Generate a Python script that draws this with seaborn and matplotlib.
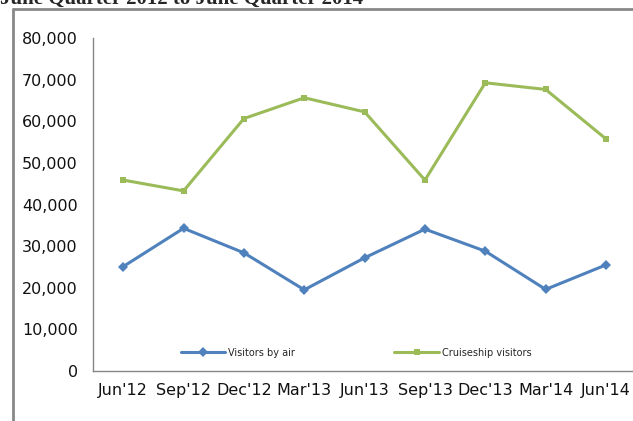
import pandas as pd
import matplotlib.pyplot as plt
import matplotlib.ticker as mticker
import seaborn as sns

quarters = ["Jun'12", "Sep'12", "Dec'12", "Mar'13", "Jun'13",
            "Sep'13", "Dec'13", "Mar'14", "Jun'14"]
visitors_by_air = [25100, 34300, 28400, 19500, 27200, 34100, 28800, 19600, 25500]
cruiseship_visitors = [45900, 43300, 60700, 65700, 62300, 45900, 69300, 67700, 55800]

df = pd.DataFrame({
    "quarter": quarters * 2,
    "visitors": visitors_by_air + cruiseship_visitors,
    "series": ["Visitors by air"] * len(quarters) + ["Cruiseship visitors"] * len(quarters),
})

sns.set_style("white")
plt.rcParams["font.family"] = ["DejaVu Sans"]

fig = plt.figure(figsize=(6.33, 4.21), dpi=100)
ax = fig.add_axes([0.147, 0.119, 0.858, 0.790])

palette = {"Visitors by air": "#4F81BD", "Cruiseship visitors": "#9BBB59"}
markers = {"Visitors by air": "D", "Cruiseship visitors": "s"}
sns.lineplot(data=df, x="quarter", y="visitors", hue="series", style="series",
             palette=palette, markers=markers, dashes=False, linewidth=2.2,
             markersize=5, markeredgewidth=0, sort=False, ax=ax)

ax.set_xlim(-0.5, len(quarters) - 0.5)
ax.set_ylim(0, 80000)
ax.yaxis.set_major_locator(mticker.MultipleLocator(10000))
ax.yaxis.set_major_formatter(mticker.StrMethodFormatter("{x:,.0f}"))
ax.set_xticks(range(len(quarters)))
ax.set_xticklabels(quarters)
ax.set_xticks([i - 0.5 for i in range(len(quarters) + 1)], minor=True)
ax.tick_params(axis="x", which="major", length=0, pad=9, labelsize=11.5, colors="#111111")
ax.tick_params(axis="x", which="minor", length=5, width=1, color="#868686", direction="out")
ax.tick_params(axis="y", length=5, width=1, color="#868686", direction="out",
               labelsize=11.5, labelcolor="#111111", pad=6)
ax.set_xlabel("")
ax.set_ylabel("")
for side in ["top", "right"]:
    ax.spines[side].set_visible(False)
for side in ["left", "bottom"]:
    ax.spines[side].set_color("#868686")
    ax.spines[side].set_linewidth(1)

leg = ax.legend(loc="lower left", bbox_to_anchor=(0.145, 0.013), ncol=2, frameon=False,
                fontsize=7, handlelength=4.6, handletextpad=0.3, columnspacing=10.2)

# outer chart border (only top and left visible in the crop)
fig.add_artist(plt.Line2D([13 / 633, 1], [1 - 9 / 421, 1 - 9 / 421],
                          color="#888888", linewidth=2, transform=fig.transFigure))
fig.add_artist(plt.Line2D([13 / 633, 13 / 633], [0, 1 - 9 / 421],
                          color="#888888", linewidth=2, transform=fig.transFigure))

fig.text(0.0, 1 - 4 / 421, "June Quarter 2012 to June Quarter 2014",
         family="Liberation Serif", fontsize=15, fontweight="bold", va="baseline", ha="left")

fig.savefig("out.png", dpi=100)
